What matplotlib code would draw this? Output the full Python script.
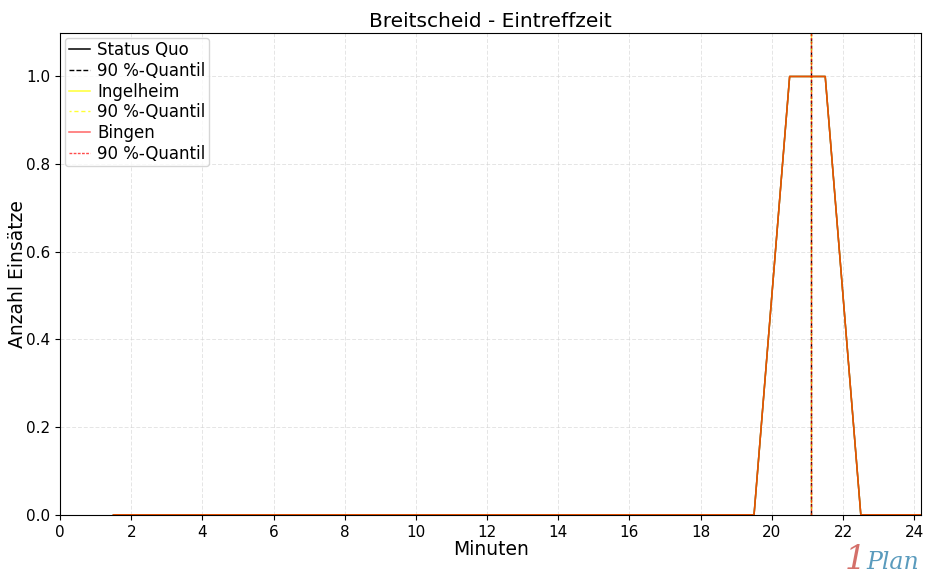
import numpy as np
import matplotlib.pyplot as plt

minuten = [1.5, 2.5, 3.5, 4.5, 5.5, 6.5, 7.5, 8.5, 9.5, 10.5, 11.5, 12.5,
           13.5, 14.5, 15.5, 16.5, 17.5, 18.5, 19.5, 20.5, 21.5, 22.5, 23.5, 24.5]
status_quo = [0]*19 + [1, 1] + [0, 0, 0]
ingelheim = [0]*19 + [1, 1] + [0, 0, 0]
bingen = [0]*19 + [1, 1] + [0, 0, 0]
quantil_sq = 21.1
quantil_ing = 21.1
quantil_bin = 21.1

fig, ax = plt.subplots(figsize=(9.25, 5.83), dpi=100)

ax.plot(minuten, status_quo, color='black', lw=1.1, label='Status Quo')
ax.axvline(quantil_sq, color='black', ls=(0, (3.5, 1.5)), lw=1.0, label='90 %-Quantil')
ax.plot(minuten, ingelheim, color='yellow', lw=1.1, alpha=0.8, label='Ingelheim')
ax.axvline(quantil_ing, color='yellow', ls=(1.5, (3, 2)), lw=1.0, alpha=0.8, label='90 %-Quantil')
ax.plot(minuten, bingen, color='red', lw=1.1, alpha=0.6, label='Bingen')
ax.axvline(quantil_bin, color='red', ls=(0, (2, 1)), lw=1.0, alpha=0.7, label='90 %-Quantil')

ax.set_xlim(0, 24.2)
ax.set_ylim(0, 1.1)
ax.set_xticks(np.arange(0, 25, 2))
ax.grid(True, ls=(0, (4, 2)), color='lightgray', lw=0.7, alpha=0.6)
ax.tick_params(labelsize=11)
ax.set_title('Breitscheid - Eintreffzeit', fontsize=14.5, pad=4)
ax.set_xlabel('Minuten', fontsize=13.5, labelpad=0)
ax.set_ylabel('Anzahl Einsätze', fontsize=13.5)
ax.yaxis.set_label_coords(-0.038, 0.5)
ax.legend(loc='upper left', fontsize=12, borderaxespad=0.3, handlelength=1.25,
          handletextpad=0.45, labelspacing=0.16, borderpad=0.22)

fig.subplots_adjust(left=0.065, right=0.996, top=0.944, bottom=0.117)

fig.text(0.913, 0.012, '1', color='#d4706a', fontsize=24, style='italic',
         family='DejaVu Serif', ha='left', va='bottom')
fig.text(0.937, 0.016, 'Plan', color='#5a9bbd', fontsize=17, style='italic',
         family='DejaVu Serif', ha='left', va='bottom')

fig.savefig('out.png', dpi=100)
